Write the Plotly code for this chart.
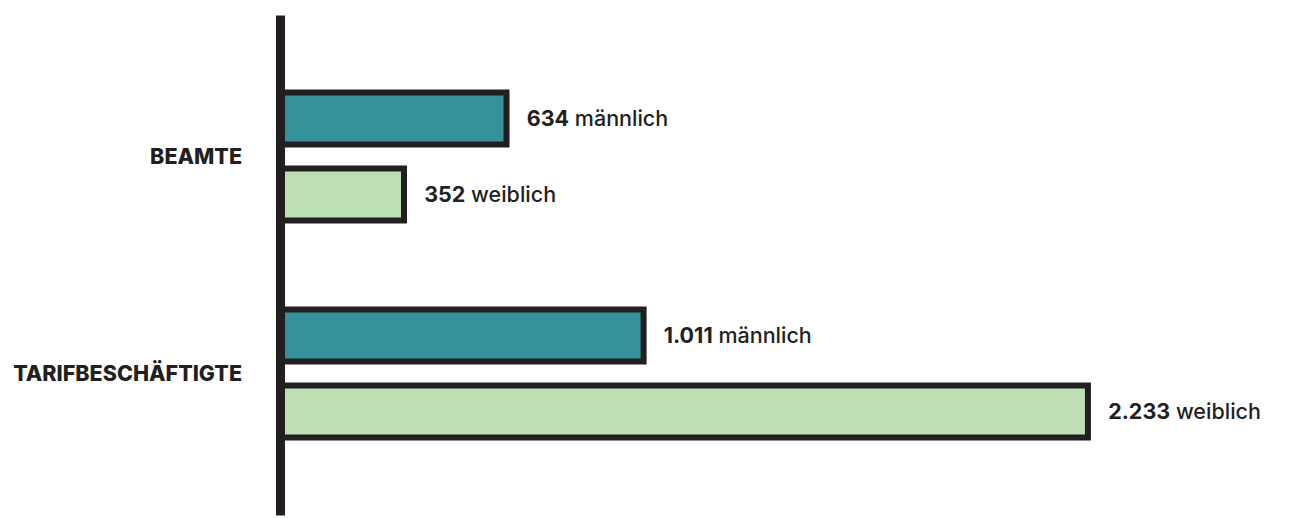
import plotly.graph_objects as go

# Beschäftigte nach Statusgruppe und Geschlecht
categories = ["BEAMTE", "TARIFBESCHÄFTIGTE"]
maennlich = [634, 1011]
weiblich = [352, 2233]
label_maennlich = ["634", "1.011"]
label_weiblich = ["352", "2.233"]

INK = "#231f20"
TEAL = "#35919a"
MINT = "#bddfb4"
PAD = "\u00a0" * 3
FONT = "Inter"

fig = go.Figure()
fig.add_trace(go.Bar(
    y=categories, x=maennlich, orientation="h", name="männlich",
    marker=dict(color=TEAL, line=dict(color=INK, width=6)),
    text=[f"{PAD}<b>{t}</b> männlich" for t in label_maennlich],
    textposition="outside", cliponaxis=False,
    textfont=dict(family=FONT, size=21.5, color=INK, weight=500),
))
fig.add_trace(go.Bar(
    y=categories, x=weiblich, orientation="h", name="weiblich",
    marker=dict(color=MINT, line=dict(color=INK, width=6)),
    text=[f"{PAD}<b>{t}</b> weiblich" for t in label_weiblich],
    textposition="outside", cliponaxis=False,
    textfont=dict(family=FONT, size=21.5, color=INK, weight=500),
))

# thick vertical baseline
fig.add_shape(type="line", xref="x", yref="paper", x0=0, x1=0, y0=0.005, y1=0.97,
              line=dict(color=INK, width=18), layer="above")

fig.update_layout(
    width=1289, height=518,
    margin=dict(l=276, r=0, t=0, b=0),
    paper_bgcolor="white", plot_bgcolor="white",
    barmode="group", bargap=0.30, bargroupgap=0.316,
    showlegend=False,
    xaxis=dict(range=[0, 2786], visible=False),
    yaxis=dict(range=[1.666, -0.721], showgrid=False, zeroline=False,
               showline=False, ticks="", ticklabelstandoff=33,
               tickfont=dict(family=FONT, size=21.5, color=INK, weight=800)),
)

fig.write_html("out.html")
